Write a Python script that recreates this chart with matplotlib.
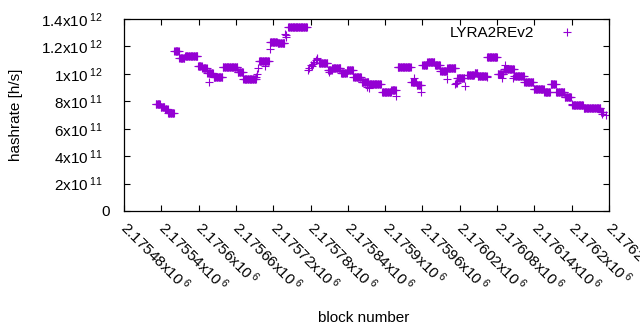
import numpy as np
import matplotlib
matplotlib.use("Agg")
import matplotlib.pyplot as plt

plt.rcParams['font.family'] = ['Liberation Sans', 'DejaVu Sans']
plt.rcParams['mathtext.default'] = 'regular'

SCALE = 1e11
COLOR = '#9400d3'

# runs of blocks with (roughly) the same hashrate, values in units of 1e11 h/s
run_start = [2175531, 2175539, 2175546, 2175551, 2175561, 2175569, 2175578, 2175599,
             2175606, 2175614, 2175624, 2175639, 2175663, 2175672, 2175697, 2175715,
             2175727, 2175744, 2175794, 2175808, 2175815, 2175829, 2175839, 2175849,
             2175862, 2175874, 2175895, 2175910, 2175920, 2175942, 2175951, 2175960,
             2175968, 2175980, 2175989, 2176000, 2176014, 2176016, 2176032, 2176044,
             2176049, 2176064, 2176081, 2176091, 2176108, 2176124, 2176139, 2176156,
             2176166, 2176175, 2176189, 2176201, 2176219, 2176247]
run_end = [2175538, 2175545, 2175550, 2175560, 2175568, 2175577, 2175598, 2175605,
           2175613, 2175623, 2175638, 2175662, 2175671, 2175692, 2175713, 2175726,
           2175738, 2175774, 2175807, 2175814, 2175828, 2175838, 2175848, 2175861,
           2175873, 2175893, 2175909, 2175917, 2175941, 2175950, 2175958, 2175967,
           2175979, 2175988, 2175999, 2176013, 2176015, 2176027, 2176043, 2176048,
           2176063, 2176080, 2176090, 2176107, 2176123, 2176138, 2176155, 2176165,
           2176174, 2176188, 2176199, 2176218, 2176246, 2176251]
run_value = [7.80, 7.58, 7.44, 7.11, 11.64, 11.12, 11.28, 10.60,
             10.43, 10.04, 9.79, 10.52, 10.13, 9.60, 10.97, 12.35,
             12.25, 13.39, 10.77, 10.30, 10.40, 10.04, 10.28, 9.79,
             9.38, 9.24, 8.65, 8.82, 10.52, 9.43, 9.20, 10.65,
             10.84, 10.65, 10.21, 10.40, 9.30, 9.68, 9.92, 10.04,
             9.87, 11.25, 9.99, 10.38, 9.84, 9.38, 8.90, 8.65,
             9.24, 8.65, 8.33, 7.75, 7.53, 7.24]

# single outlying blocks
single_block = [2175617, 2175693, 2175694, 2175696, 2175706, 2175714, 2175739, 2175740,
                2175741, 2175776, 2175778, 2175780, 2175782, 2175784, 2175786, 2175788,
                2175790, 2175791, 2175809, 2175871, 2175874, 2175918, 2175946, 2175958,
                2176000, 2176013, 2176028, 2176064, 2176088, 2176092, 2176106, 2176200,
                2176249, 2176255]
single_value = [9.38, 9.80, 10.00, 10.40, 10.60, 11.79, 12.90, 12.80,
                12.71, 10.28, 10.45, 10.65, 10.55, 10.75, 10.89, 11.00,
                11.18, 11.05, 10.16, 9.02, 8.99, 8.41, 9.67, 8.65,
                9.62, 9.24, 9.14, 9.79, 9.67, 10.65, 9.67, 7.78,
                7.05, 7.00]

xticks = np.arange(2175480, 2176261, 60)
yticks = [0, 2e11, 4e11, 6e11, 8e11, 1e12, 1.2e12, 1.4e12]
ytick_labels = ['0', r'2x10$\,^{11}$', r'4x10$\,^{11}$', r'6x10$\,^{11}$', r'8x10$\,^{11}$',
                r'1x10$\,^{12}$', r'1.2x10$\,^{12}$', r'1.4x10$\,^{12}$']

blocks = []
rates = []
for s, e, v in zip(run_start, run_end, run_value):
    for b in range(s, e + 1):
        blocks.append(b)
        rates.append(v * SCALE)
for b, v in zip(single_block, single_value):
    blocks.append(b)
    rates.append(v * SCALE)

fig = plt.figure(figsize=(6.4, 3.3), dpi=100)
ax = fig.add_axes([124 / 640, 1 - 211 / 330, 485 / 640, 192 / 330])

ax.plot(blocks, rates, '+', color=COLOR, ms=5.8, mew=0.8, linestyle='none', label='LYRA2REv2')

ax.set_xlim(2175480, 2176260)
ax.set_ylim(0, 1.4e12)
ax.set_xticks(xticks)
ax.set_xticklabels([r'%gx10$\,^{6}$' % (t / 1e6) for t in xticks],
                   rotation=-45, ha='left', va='center', rotation_mode='anchor')
ax.set_yticks(yticks)
ax.set_yticklabels(ytick_labels)

ax.tick_params(direction='in', top=True, right=True, length=4, width=0.8,
               labelsize=11, color='black')
ax.tick_params(axis='y', pad=15)
ax.tick_params(axis='x', pad=10)
# gnuplot puts the plain "0" a bit closer to the axis
ax.yaxis.get_major_ticks()[0].set_pad(10)
for sp in ax.spines.values():
    sp.set_linewidth(0.9)

ax.set_ylabel('hashrate [h/s]', fontsize=11)
ax.yaxis.set_label_coords(-0.208, 0.5)
ax.set_xlabel('block number', fontsize=11)
ax.xaxis.set_label_coords(0.495, -0.52)

ax.legend(loc='upper right', bbox_to_anchor=(0.9577, 0.995), borderaxespad=0,
          frameon=False, markerfirst=False, fontsize=11, handlelength=2,
          handletextpad=1.17, borderpad=0.4)

fig.savefig('out.png', dpi=100)
